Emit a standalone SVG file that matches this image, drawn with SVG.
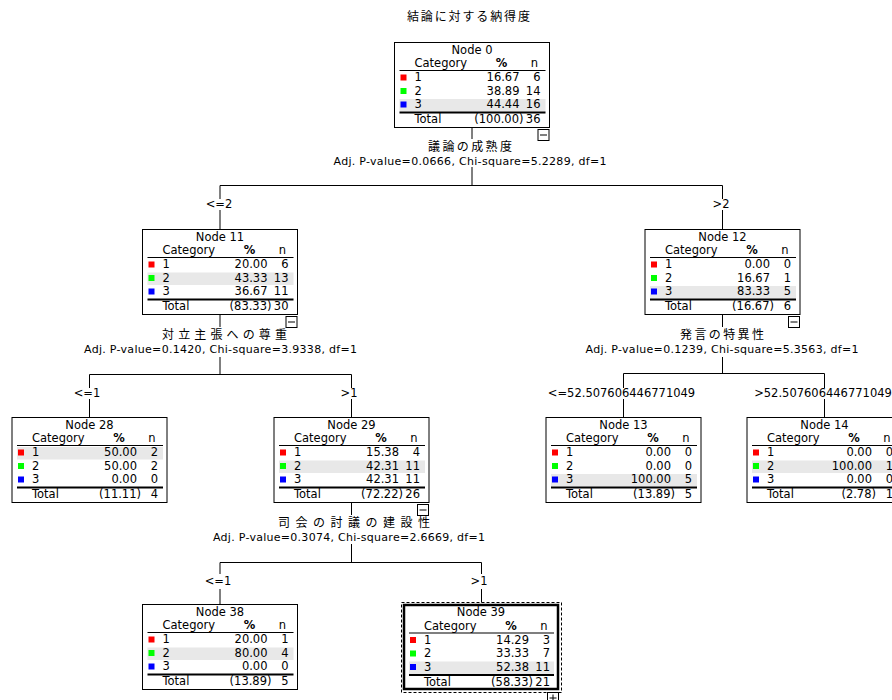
<svg xmlns="http://www.w3.org/2000/svg" width="892" height="700" viewBox="0 0 892 700">
<style>
.bg{fill:#fff}
.box{fill:#fff;stroke:#000;stroke-width:1}
.thick{fill:#fff;stroke:#000;stroke-width:2.5}
.dash{fill:none;stroke:#000;stroke-width:1;stroke-dasharray:3 2}
.t{font-family:"DejaVu Sans","Liberation Sans",sans-serif;font-size:11.5px;fill:#000}
.adj{font-family:"DejaVu Sans","Liberation Sans",sans-serif;font-size:11px;fill:#000;text-anchor:middle}
.m{text-anchor:middle}
.e{text-anchor:end}
.b{font-weight:bold}
.jp{font-family:"Noto Sans CJK JP",sans-serif;font-size:12px;fill:#000;text-anchor:middle}
.hl{fill:#e8e8e8}
.sep{stroke:#000;stroke-width:1.2}
.sep2{stroke:#000;stroke-width:2}
.c1{fill:#f00}.c2{fill:#0f0}.c3{fill:#00f}
.conn line{stroke:#000;stroke-width:1}
.tog{fill:#fff;stroke:#000;stroke-width:1}
.tl{stroke:#000;stroke-width:1}
</style>
<rect class="bg" x="0" y="0" width="892" height="700"/>

<text class="jp" x="468.5" y="20.5" textLength="123" lengthAdjust="spacing">結論に対する納得度</text>

<g id="connectors" class="conn">
  <line x1="472" y1="127.5" x2="472" y2="139"/>
  <line x1="472" y1="167" x2="472" y2="185.5"/>
  <line x1="220" y1="185.5" x2="722.5" y2="185.5"/>
  <line x1="220" y1="185.5" x2="220" y2="199"/>
  <line x1="220" y1="210" x2="220" y2="229"/>
  <line x1="722.5" y1="185.5" x2="722.5" y2="199"/>
  <line x1="722.5" y1="210" x2="722.5" y2="229"/>

  <line x1="220" y1="314" x2="220" y2="327"/>
  <line x1="220" y1="357" x2="220" y2="374.5"/>
  <line x1="89.5" y1="374.5" x2="351.5" y2="374.5"/>
  <line x1="89.5" y1="374.5" x2="89.5" y2="388"/>
  <line x1="89.5" y1="399" x2="89.5" y2="417"/>
  <line x1="351.5" y1="374.5" x2="351.5" y2="388"/>
  <line x1="351.5" y1="399" x2="351.5" y2="417"/>

  <line x1="722.5" y1="314" x2="722.5" y2="327"/>
  <line x1="722.5" y1="357" x2="722.5" y2="373.5"/>
  <line x1="623.5" y1="373.5" x2="824.5" y2="373.5"/>
  <line x1="623.5" y1="373.5" x2="623.5" y2="388"/>
  <line x1="623.5" y1="399" x2="623.5" y2="417"/>
  <line x1="824.5" y1="373.5" x2="824.5" y2="388"/>
  <line x1="824.5" y1="399" x2="824.5" y2="417"/>

  <line x1="351.5" y1="502" x2="351.5" y2="515"/>
  <line x1="351.5" y1="544" x2="351.5" y2="562.5"/>
  <line x1="220" y1="562.5" x2="481.5" y2="562.5"/>
  <line x1="220" y1="562.5" x2="220" y2="574"/>
  <line x1="220" y1="589" x2="220" y2="604"/>
  <line x1="481.5" y1="562.5" x2="481.5" y2="574"/>
  <line x1="481.5" y1="589" x2="481.5" y2="602.5"/>

  <text class="jp" x="470" y="151" textLength="84" lengthAdjust="spacing">議論の成熟度</text>
  <text class="adj" x="470" y="165" textLength="273" lengthAdjust="spacing">Adj. P-value=0.0666, Chi-square=5.2289, df=1</text>
  <text class="t m" x="219" y="208">&lt;=2</text>
  <text class="t m" x="721" y="208">&gt;2</text>

  <text class="jp" x="224.5" y="339" textLength="125" lengthAdjust="spacing">対立主張への尊重</text>
  <text class="adj" x="220.5" y="353" textLength="273" lengthAdjust="spacing">Adj. P-value=0.1420, Chi-square=3.9338, df=1</text>
  <text class="t m" x="87" y="397">&lt;=1</text>
  <text class="t m" x="349" y="397">&gt;1</text>

  <text class="jp" x="722" y="339" textLength="84" lengthAdjust="spacing">発言の特異性</text>
  <text class="adj" x="722" y="353" textLength="273" lengthAdjust="spacing">Adj. P-value=0.1239, Chi-square=5.3563, df=1</text>
  <text class="t m" x="621.5" y="397">&lt;=52.507606446771049</text>
  <text class="t m" x="823" y="397">&gt;52.507606446771049</text>

  <text class="jp" x="354" y="527" textLength="152" lengthAdjust="spacing">司会の討議の建設性</text>
  <text class="adj" x="349" y="541" textLength="272" lengthAdjust="spacing">Adj. P-value=0.3074, Chi-square=2.6669, df=1</text>
  <text class="t m" x="218" y="585">&lt;=1</text>
  <text class="t m" x="479" y="585">&gt;1</text>
</g>

<g id="node0" transform="translate(394.5,42.5)">
  <rect class="box" x="0" y="0" width="155" height="85"/>
  <text class="t m" x="77.5" y="11">Node 0</text>
  <text class="t" x="20" y="24.5">Category</text><text class="t m b" x="107" y="24.5">%</text><text class="t m" x="140" y="24.5">n</text>
  <line class="sep" x1="5" y1="28" x2="151" y2="28"/>
  <rect class="hl" x="5" y="56.5" width="146" height="12.5"/>
  <rect class="c1" x="6" y="32" width="6" height="6"/><text class="t" x="20" y="38.5">1</text><text class="t e" x="125" y="38.5">16.67</text><text class="t e" x="146" y="38.5">6</text>
  <rect class="c2" x="6" y="45.5" width="6" height="6"/><text class="t" x="20" y="52">2</text><text class="t e" x="125" y="52">38.89</text><text class="t e" x="146" y="52">14</text>
  <rect class="c3" x="6" y="59" width="6" height="6"/><text class="t" x="20" y="65.5">3</text><text class="t e" x="125" y="65.5">44.44</text><text class="t e" x="146" y="65.5">16</text>
  <line class="sep2" x1="5" y1="70" x2="151" y2="70"/>
  <text class="t" x="20" y="80.5">Total</text><text class="t e" x="129" y="80.5">(100.00)</text><text class="t e" x="146" y="80.5">36</text>
  <rect class="tog" x="143.5" y="87" width="11" height="11"/><line class="tl" x1="145.5" y1="92.5" x2="152.5" y2="92.5"/>
</g>

<g id="node11" transform="translate(142.5,229.5)">
  <rect class="box" x="0" y="0" width="155" height="85"/>
  <text class="t m" x="77.5" y="11">Node 11</text>
  <text class="t" x="20" y="24.5">Category</text><text class="t m b" x="107" y="24.5">%</text><text class="t m" x="140" y="24.5">n</text>
  <line class="sep" x1="5" y1="28" x2="151" y2="28"/>
  <rect class="hl" x="5" y="43" width="146" height="12.5"/>
  <rect class="c1" x="6" y="32" width="6" height="6"/><text class="t" x="20" y="38.5">1</text><text class="t e" x="125" y="38.5">20.00</text><text class="t e" x="146" y="38.5">6</text>
  <rect class="c2" x="6" y="45.5" width="6" height="6"/><text class="t" x="20" y="52">2</text><text class="t e" x="125" y="52">43.33</text><text class="t e" x="146" y="52">13</text>
  <rect class="c3" x="6" y="59" width="6" height="6"/><text class="t" x="20" y="65.5">3</text><text class="t e" x="125" y="65.5">36.67</text><text class="t e" x="146" y="65.5">11</text>
  <line class="sep2" x1="5" y1="70" x2="151" y2="70"/>
  <text class="t" x="20" y="80.5">Total</text><text class="t e" x="129" y="80.5">(83.33)</text><text class="t e" x="146" y="80.5">30</text>
  <rect class="tog" x="143.5" y="87" width="11" height="11"/><line class="tl" x1="145.5" y1="92.5" x2="152.5" y2="92.5"/>
</g>

<g id="node12" transform="translate(645,229.5)">
  <rect class="box" x="0" y="0" width="155" height="85"/>
  <text class="t m" x="77.5" y="11">Node 12</text>
  <text class="t" x="20" y="24.5">Category</text><text class="t m b" x="107" y="24.5">%</text><text class="t m" x="140" y="24.5">n</text>
  <line class="sep" x1="5" y1="28" x2="151" y2="28"/>
  <rect class="hl" x="5" y="56.5" width="146" height="12.5"/>
  <rect class="c1" x="6" y="32" width="6" height="6"/><text class="t" x="20" y="38.5">1</text><text class="t e" x="125" y="38.5">0.00</text><text class="t e" x="146" y="38.5">0</text>
  <rect class="c2" x="6" y="45.5" width="6" height="6"/><text class="t" x="20" y="52">2</text><text class="t e" x="125" y="52">16.67</text><text class="t e" x="146" y="52">1</text>
  <rect class="c3" x="6" y="59" width="6" height="6"/><text class="t" x="20" y="65.5">3</text><text class="t e" x="125" y="65.5">83.33</text><text class="t e" x="146" y="65.5">5</text>
  <line class="sep2" x1="5" y1="70" x2="151" y2="70"/>
  <text class="t" x="20" y="80.5">Total</text><text class="t e" x="129" y="80.5">(16.67)</text><text class="t e" x="146" y="80.5">6</text>
  <rect class="tog" x="143.5" y="87" width="11" height="11"/><line class="tl" x1="145.5" y1="92.5" x2="152.5" y2="92.5"/>
</g>

<g id="node28" transform="translate(12,417.5)">
  <rect class="box" x="0" y="0" width="155" height="85"/>
  <text class="t m" x="77.5" y="11">Node 28</text>
  <text class="t" x="20" y="24.5">Category</text><text class="t m b" x="107" y="24.5">%</text><text class="t m" x="140" y="24.5">n</text>
  <line class="sep" x1="5" y1="28" x2="151" y2="28"/>
  <rect class="hl" x="5" y="29.5" width="146" height="12.5"/>
  <rect class="c1" x="6" y="32" width="6" height="6"/><text class="t" x="20" y="38.5">1</text><text class="t e" x="125" y="38.5">50.00</text><text class="t e" x="146" y="38.5">2</text>
  <rect class="c2" x="6" y="45.5" width="6" height="6"/><text class="t" x="20" y="52">2</text><text class="t e" x="125" y="52">50.00</text><text class="t e" x="146" y="52">2</text>
  <rect class="c3" x="6" y="59" width="6" height="6"/><text class="t" x="20" y="65.5">3</text><text class="t e" x="125" y="65.5">0.00</text><text class="t e" x="146" y="65.5">0</text>
  <line class="sep2" x1="5" y1="70" x2="151" y2="70"/>
  <text class="t" x="20" y="80.5">Total</text><text class="t e" x="129" y="80.5">(11.11)</text><text class="t e" x="146" y="80.5">4</text>
</g>

<g id="node29" transform="translate(274,417.5)">
  <rect class="box" x="0" y="0" width="155" height="85"/>
  <text class="t m" x="77.5" y="11">Node 29</text>
  <text class="t" x="20" y="24.5">Category</text><text class="t m b" x="107" y="24.5">%</text><text class="t m" x="140" y="24.5">n</text>
  <line class="sep" x1="5" y1="28" x2="151" y2="28"/>
  <rect class="hl" x="5" y="43" width="146" height="12.5"/>
  <rect class="c1" x="6" y="32" width="6" height="6"/><text class="t" x="20" y="38.5">1</text><text class="t e" x="125" y="38.5">15.38</text><text class="t e" x="146" y="38.5">4</text>
  <rect class="c2" x="6" y="45.5" width="6" height="6"/><text class="t" x="20" y="52">2</text><text class="t e" x="125" y="52">42.31</text><text class="t e" x="146" y="52">11</text>
  <rect class="c3" x="6" y="59" width="6" height="6"/><text class="t" x="20" y="65.5">3</text><text class="t e" x="125" y="65.5">42.31</text><text class="t e" x="146" y="65.5">11</text>
  <line class="sep2" x1="5" y1="70" x2="151" y2="70"/>
  <text class="t" x="20" y="80.5">Total</text><text class="t e" x="129" y="80.5">(72.22)</text><text class="t e" x="146" y="80.5">26</text>
  <rect class="tog" x="143.5" y="87" width="11" height="11"/><line class="tl" x1="145.5" y1="92.5" x2="152.5" y2="92.5"/>
</g>

<g id="node13" transform="translate(546,417.5)">
  <rect class="box" x="0" y="0" width="155" height="85"/>
  <text class="t m" x="77.5" y="11">Node 13</text>
  <text class="t" x="20" y="24.5">Category</text><text class="t m b" x="107" y="24.5">%</text><text class="t m" x="140" y="24.5">n</text>
  <line class="sep" x1="5" y1="28" x2="151" y2="28"/>
  <rect class="hl" x="5" y="56.5" width="146" height="12.5"/>
  <rect class="c1" x="6" y="32" width="6" height="6"/><text class="t" x="20" y="38.5">1</text><text class="t e" x="125" y="38.5">0.00</text><text class="t e" x="146" y="38.5">0</text>
  <rect class="c2" x="6" y="45.5" width="6" height="6"/><text class="t" x="20" y="52">2</text><text class="t e" x="125" y="52">0.00</text><text class="t e" x="146" y="52">0</text>
  <rect class="c3" x="6" y="59" width="6" height="6"/><text class="t" x="20" y="65.5">3</text><text class="t e" x="125" y="65.5">100.00</text><text class="t e" x="146" y="65.5">5</text>
  <line class="sep2" x1="5" y1="70" x2="151" y2="70"/>
  <text class="t" x="20" y="80.5">Total</text><text class="t e" x="129" y="80.5">(13.89)</text><text class="t e" x="146" y="80.5">5</text>
</g>

<g id="node14" transform="translate(747,417.5)">
  <rect class="box" x="0" y="0" width="155" height="85"/>
  <text class="t m" x="77.5" y="11">Node 14</text>
  <text class="t" x="20" y="24.5">Category</text><text class="t m b" x="107" y="24.5">%</text><text class="t m" x="140" y="24.5">n</text>
  <line class="sep" x1="5" y1="28" x2="151" y2="28"/>
  <rect class="hl" x="5" y="43" width="146" height="12.5"/>
  <rect class="c1" x="6" y="32" width="6" height="6"/><text class="t" x="20" y="38.5">1</text><text class="t e" x="125" y="38.5">0.00</text><text class="t e" x="146" y="38.5">0</text>
  <rect class="c2" x="6" y="45.5" width="6" height="6"/><text class="t" x="20" y="52">2</text><text class="t e" x="125" y="52">100.00</text><text class="t e" x="146" y="52">1</text>
  <rect class="c3" x="6" y="59" width="6" height="6"/><text class="t" x="20" y="65.5">3</text><text class="t e" x="125" y="65.5">0.00</text><text class="t e" x="146" y="65.5">0</text>
  <line class="sep2" x1="5" y1="70" x2="151" y2="70"/>
  <text class="t" x="20" y="80.5">Total</text><text class="t e" x="129" y="80.5">(2.78)</text><text class="t e" x="146" y="80.5">1</text>
</g>

<g id="node38" transform="translate(142.5,604.5)">
  <rect class="box" x="0" y="0" width="155" height="85"/>
  <text class="t m" x="77.5" y="11">Node 38</text>
  <text class="t" x="20" y="24.5">Category</text><text class="t m b" x="107" y="24.5">%</text><text class="t m" x="140" y="24.5">n</text>
  <line class="sep" x1="5" y1="28" x2="151" y2="28"/>
  <rect class="hl" x="5" y="43" width="146" height="12.5"/>
  <rect class="c1" x="6" y="32" width="6" height="6"/><text class="t" x="20" y="38.5">1</text><text class="t e" x="125" y="38.5">20.00</text><text class="t e" x="146" y="38.5">1</text>
  <rect class="c2" x="6" y="45.5" width="6" height="6"/><text class="t" x="20" y="52">2</text><text class="t e" x="125" y="52">80.00</text><text class="t e" x="146" y="52">4</text>
  <rect class="c3" x="6" y="59" width="6" height="6"/><text class="t" x="20" y="65.5">3</text><text class="t e" x="125" y="65.5">0.00</text><text class="t e" x="146" y="65.5">0</text>
  <line class="sep2" x1="5" y1="70" x2="151" y2="70"/>
  <text class="t" x="20" y="80.5">Total</text><text class="t e" x="129" y="80.5">(13.89)</text><text class="t e" x="146" y="80.5">5</text>
</g>

<g id="node39" transform="translate(404,605)">
  <rect class="dash" x="-2.5" y="-2.5" width="160" height="90"/>
  <rect class="thick" x="0" y="0" width="154" height="84"/>
  <text class="t m" x="77" y="11">Node 39</text>
  <text class="t" x="20" y="24.5">Category</text><text class="t m b" x="107" y="24.5">%</text><text class="t m" x="140" y="24.5">n</text>
  <line class="sep" x1="5" y1="28" x2="150" y2="28"/>
  <rect class="hl" x="5" y="56.5" width="145" height="12.5"/>
  <rect class="c1" x="6" y="32" width="6" height="6"/><text class="t" x="20" y="38.5">1</text><text class="t e" x="125" y="38.5">14.29</text><text class="t e" x="146" y="38.5">3</text>
  <rect class="c2" x="6" y="45.5" width="6" height="6"/><text class="t" x="20" y="52">2</text><text class="t e" x="125" y="52">33.33</text><text class="t e" x="146" y="52">7</text>
  <rect class="c3" x="6" y="59" width="6" height="6"/><text class="t" x="20" y="65.5">3</text><text class="t e" x="125" y="65.5">52.38</text><text class="t e" x="146" y="65.5">11</text>
  <line class="sep2" x1="5" y1="70" x2="150" y2="70"/>
  <text class="t" x="20" y="80.5">Total</text><text class="t e" x="129" y="80.5">(58.33)</text><text class="t e" x="146" y="80.5">21</text>
  <rect class="tog" x="143.5" y="87.5" width="11" height="11"/><line class="tl" x1="145.5" y1="93" x2="152.5" y2="93"/><line class="tl" x1="149" y1="89.5" x2="149" y2="96.5"/>
</g>
</svg>
